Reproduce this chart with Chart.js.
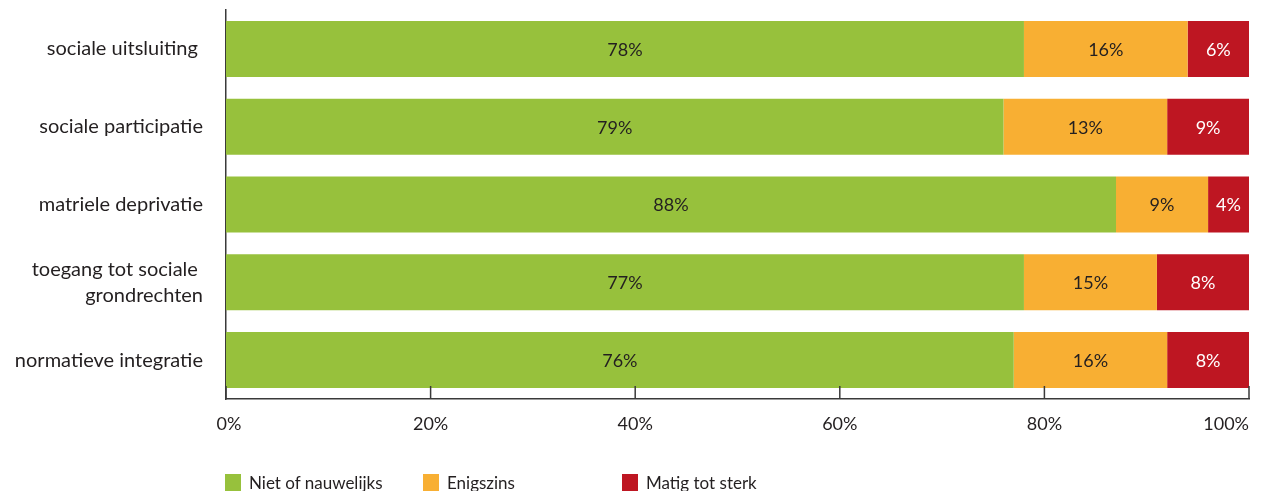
<!DOCTYPE html>
<html>
<head>
<title>Sociale uitsluiting</title>
<style>
body {
	margin: 0;
	background: #fff;
	font-family: Lato, sans-serif;
}

.chart-container {
	position: relative;
	width: 1265px;
	height: 491px;
	overflow: hidden;
}

#legend {
	position: absolute;
	left: 0;
	top: 474px;
	font-size: 17px;
	color: #231f20;
}

#legend .item {
	position: absolute;
	white-space: nowrap;
	line-height: 17px;
}

#legend .box {
	display: inline-block;
	width: 16px;
	height: 17px;
	vertical-align: top;
	margin-right: 8px;
}
</style>
</head>
<script src="https://cdn.jsdelivr.net/npm/chart.js@4.4.1/dist/chart.umd.min.js"></script>
<body>
	<div class="chart-container">
		<canvas id="chart"></canvas>
		<div id="legend"></div>
	</div>
	<script>
		const categories = [
			"sociale uitsluiting ",
			"sociale participatie",
			"matriele deprivatie",
			["toegang tot sociale ", "grondrechten"],
			"normatieve integratie"
		];
		const seriesNames = ["Niet of nauwelijks", "Enigszins", "Matig tot sterk"];
		const seriesColors = ["#97c13c", "#f8af33", "#be1622"];

		// bar lengths as drawn
		const nietValues = [78, 76, 87, 78, 77];
		const enigszinsValues = [16, 16, 9, 13, 15];
		const matigValues = [6, 8, 4, 9, 8];

		// the printed labels (they do not always match the bar lengths)
		const nietLabels = ["78%", "79%", "88%", "77%", "76%"];
		const enigszinsLabels = ["16%", "13%", "9%", "15%", "16%"];
		const matigLabels = ["6%", "9%", "4%", "8%", "8%"];

		const xTicks = [0, 20, 40, 60, 80, 100];

		const textColor = "#231f20";
		const axisColor = "#3a3a3a";

		const segmentLabels = {
			id: "segmentLabels",
			afterDatasetsDraw(chart) {
				const ctx = chart.ctx;
				ctx.save();
				ctx.font = "18px Lato";
				ctx.textAlign = "center";
				ctx.textBaseline = "middle";
				chart.data.datasets.forEach((ds, i) => {
					const meta = chart.getDatasetMeta(i);
					meta.data.forEach((bar, j) => {
						ctx.fillStyle = ds.labelColor;
						ctx.fillText(ds.labels[j], (bar.x + bar.base) / 2, bar.y + 1);
					});
				});
				ctx.restore();
			}
		};

		// tick marks point up into the plot; the 0% label sits centred on its tick
		const innerTicks = {
			id: "innerTicks",
			afterDraw(chart) {
				const ctx = chart.ctx;
				const x = chart.scales.x;
				const bottom = chart.chartArea.bottom;
				ctx.save();
				ctx.strokeStyle = axisColor;
				ctx.lineWidth = 1.5;
				xTicks.forEach(v => {
					const px = x.getPixelForValue(v);
					ctx.beginPath();
					ctx.moveTo(px, bottom);
					ctx.lineTo(px, bottom - 13);
					ctx.stroke();
				});
				ctx.font = "18px Lato";
				ctx.fillStyle = textColor;
				ctx.textAlign = "center";
				ctx.textBaseline = "top";
				ctx.fillText(xTicks[0] + "%", x.getPixelForValue(xTicks[0]) + 3, bottom + 16);
				ctx.restore();
			}
		};

		const ctx = document.getElementById("chart").getContext("2d");
		const chart = new Chart(ctx, {
			type: "bar",
			data: {
				labels: categories,
				datasets: [
					{ label: seriesNames[0], data: nietValues, labels: nietLabels, backgroundColor: seriesColors[0], labelColor: textColor },
					{ label: seriesNames[1], data: enigszinsValues, labels: enigszinsLabels, backgroundColor: seriesColors[1], labelColor: textColor },
					{ label: seriesNames[2], data: matigValues, labels: matigLabels, backgroundColor: seriesColors[2], labelColor: "#ffffff" }
				]
			},
			options: {
				indexAxis: "y",
				responsive: true,
				maintainAspectRatio: false,
				animation: false,
				barPercentage: 0.72,
				categoryPercentage: 1,
				layout: {
					padding: { top: 10, right: 16, left: 0, bottom: 0 }
				},
				plugins: {
					legend: { display: false },
					tooltip: { enabled: false }
				},
				scales: {
					x: {
						stacked: true,
						min: 0,
						max: 100,
						afterBuildTicks: scale => {
							scale.ticks = xTicks.map(v => ({ value: v }));
						},
						afterFit: scale => {
							scale.height = 92;
							scale.paddingLeft = 0;
							scale.paddingRight = 0;
						},
						grid: { display: false, drawTicks: false },
						border: { display: true, color: axisColor, width: 1.5 },
						ticks: {
							color: textColor,
							font: { family: "Lato", size: 18 },
							padding: 14,
							align: "inner",
							maxRotation: 0,
							callback: v => (v === 0 ? "" : v + "%")
						}
					},
					y: {
						stacked: true,
						afterFit: scale => {
							scale.width = 226;
							scale.paddingTop = 0;
							scale.paddingBottom = 0;
						},
						grid: { display: false, drawTicks: false },
						border: { display: true, color: axisColor, width: 1.5 },
						ticks: {
							color: textColor,
							font: { family: "Lato", size: 20, lineHeight: 1.3 },
							padding: 23
						}
					}
				}
			},
			plugins: [segmentLabels, innerTicks]
		});

		// legend with fixed item spacing, as in the source
		const legend = document.getElementById("legend");
		const legendX = [225, 423, 622];
		chart.data.datasets.forEach((ds, i) => {
			const item = document.createElement("div");
			item.className = "item";
			item.style.left = legendX[i] + "px";
			const box = document.createElement("span");
			box.className = "box";
			box.style.background = ds.backgroundColor;
			item.append(box, document.createTextNode(ds.label));
			legend.append(item);
		});
	</script>
</body>
</html>
